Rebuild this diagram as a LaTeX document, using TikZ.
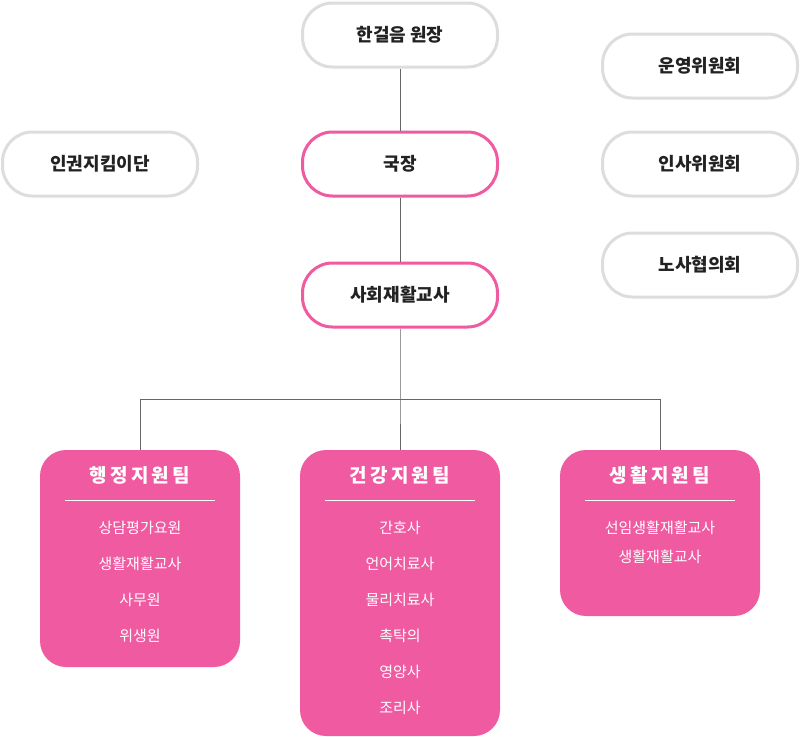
\documentclass[tikz,border=0pt]{standalone}
\usepackage{fontspec}
\setmainfont{Noto Sans CJK KR}
\definecolor{pk}{HTML}{EF5AA0}
\definecolor{gr}{HTML}{DDDDDD}
\definecolor{tx}{HTML}{222222}
\begin{document}
\begin{tikzpicture}[x=1pt,y=-1pt,
 ob/.style={draw=gr,line width=3pt,rounded corners=30pt,minimum width=195pt,minimum height=64pt,font=\fontsize{18}{20}\selectfont\bfseries,text=tx,fill=white},
 pb/.style={ob,draw=pk},
 team/.style={fill=pk,rounded corners=26pt},
 ttl/.style={text=white,font=\fontsize{19}{22}\selectfont\bfseries},
 itm/.style={text=white,font=\fontsize{15}{18}\selectfont},
 ln/.style={draw=black!60,line width=0.8pt}]
\useasboundingbox (0,0) rectangle (800,736);
\node[ob] (dir) at (400,35) {한걸음 원장};
\node[pb] (chief) at (400,164) {국장};
\node[pb] (teach) at (400,295) {사회재활교사};
\node[ob] (hr) at (100,164) {인권지킴이단};
\node[ob] (op) at (700,66) {운영위원회};
\node[ob] (per) at (700,164) {인사위원회};
\node[ob] (lab) at (700,265) {노사협의회};
\coordinate (j) at (400,399);
\coordinate (jl) at (140,399);
\coordinate (jr) at (660,399);
\coordinate (t1) at (140,450);
\coordinate (t2) at (400,450);
\coordinate (t3) at (660,450);
\draw[ln] (dir) -- (chief);
\draw[ln] (chief) -- (teach);
\draw[ln] (teach) -- (j) -- (t2);
\draw[ln] (jl) -- (jr);
\draw[ln] (jl) -- (t1);
\draw[ln] (jr) -- (t3);
\fill[team] (40,450) rectangle (240,667);
\fill[team] (300,450) rectangle (500,736);
\fill[team] (560,450) rectangle (760,616);
\foreach \x in {140,400,660}{\draw[white,line width=0.6pt] (\x-75,500) -- (\x+75,500);}
\node[ttl] (a) at (140,475) {행\,정\,지\,원\,팀};
\node[ttl] (b) at (400,475) {건\,강\,지\,원\,팀};
\node[ttl] (c) at (660,475) {생\,활\,지\,원\,팀};
\node[itm] (a1) at (140,528) {상담평가요원};
\node[itm] (a2) at (140,564) {생활재활교사};
\node[itm] (a3) at (140,600) {사무원};
\node[itm] (a4) at (140,636) {위생원};
\node[itm] (b1) at (400,528) {간호사};
\node[itm] (b2) at (400,564) {언어치료사};
\node[itm] (b3) at (400,600) {물리치료사};
\node[itm] (b4) at (400,636) {촉탁의};
\node[itm] (b5) at (400,672) {영양사};
\node[itm] (b6) at (400,708) {조리사};
\node[itm] (c1) at (660,528) {선임생활재활교사};
\node[itm] (c2) at (660,557) {생활재활교사};
\end{tikzpicture}
\end{document}
